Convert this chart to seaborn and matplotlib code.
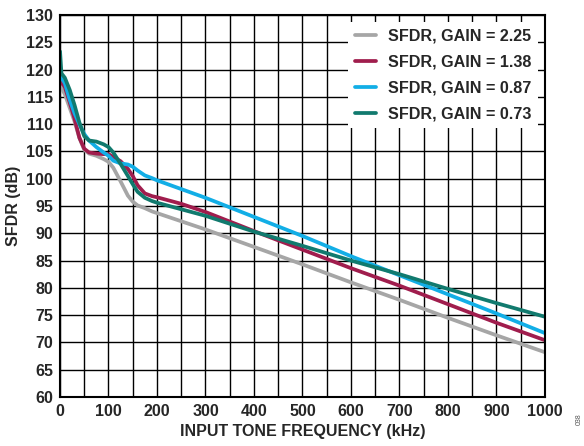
import pandas as pd
import seaborn as sns
import matplotlib.pyplot as plt

# input tone frequency (kHz)
freq = [0, 3, 10, 20, 30, 40, 50, 60, 75, 90, 100, 110, 125, 140, 150,
        160, 175, 190, 200, 250, 300, 400, 500, 600, 700, 800, 900, 1000]

# SFDR (dB) per gain setting
sfdr_225 = [117.0, 116.6, 115.5, 113.0, 110.5, 107.5, 105.3, 104.6, 104.2, 103.6,
            103.1, 102.0, 99.5, 96.9, 95.8, 95.1, 94.6, 94.0, 93.7, 92.2,
            90.7, 87.5, 84.3, 81.0, 77.8, 74.5, 71.3, 68.2]
sfdr_138 = [117.3, 117.7, 116.8, 114.0, 111.0, 107.5, 105.5, 104.8, 104.6, 104.5,
            104.5, 104.0, 103.2, 101.8, 100.5, 98.8, 97.3, 96.8, 96.6, 95.4,
            93.9, 90.4, 87.0, 83.6, 80.4, 77.0, 73.6, 70.4]
sfdr_087 = [119.5, 118.5, 117.5, 114.5, 112.0, 110.0, 108.2, 107.0, 105.8, 104.8,
            104.2, 103.3, 102.8, 102.6, 102.2, 101.5, 100.6, 100.1, 99.7, 98.1,
            96.5, 93.0, 89.5, 85.8, 82.3, 78.8, 75.3, 71.7]
sfdr_073 = [123.5, 119.3, 118.5, 116.3, 113.5, 110.3, 107.8, 107.0, 106.8, 106.3,
            105.8, 104.8, 102.7, 100.5, 99.0, 97.6, 96.5, 95.9, 95.6, 94.4,
            93.2, 90.3, 87.7, 85.0, 82.5, 79.8, 77.2, 74.7]

labels = ["SFDR, GAIN = 2.25", "SFDR, GAIN = 1.38",
          "SFDR, GAIN = 0.87", "SFDR, GAIN = 0.73"]
colors = ["#a6a6a6", "#a01d4d", "#12aee6", "#117a6e"]

frames = []
for lab, vals in zip(labels, [sfdr_225, sfdr_138, sfdr_087, sfdr_073]):
    frames.append(pd.DataFrame({"freq": freq, "sfdr": vals, "series": lab}))
df = pd.concat(frames, ignore_index=True)

sns.set_theme(style="white")
plt.rcParams["font.family"] = ["Liberation Sans", "DejaVu Sans"]
plt.rcParams["font.weight"] = "bold"

fig = plt.figure(figsize=(5.84, 4.46), dpi=100)
ax = fig.add_axes([0.1027, 0.1099, 0.8305, 0.8565])

sns.lineplot(data=df, x="freq", y="sfdr", hue="series", hue_order=labels,
             palette=colors, linewidth=2.7, ax=ax, legend=False, sort=False)
for ln in ax.lines:
    ln.set_solid_joinstyle("round")
    ln.set_solid_capstyle("butt")

ax.set_xlim(0, 1000)
ax.set_ylim(60, 130)
ax.set_xticks(range(0, 1001, 50), minor=True)
ax.set_xticks(range(0, 1001, 100))
ax.set_yticks(range(60, 131, 5))
ax.grid(True, which="both", color="black", linewidth=1.0)
ax.set_axisbelow(True)
for s in ax.spines.values():
    s.set_color("black")
    s.set_linewidth(1.5)

ax.tick_params(axis="both", which="both", length=0, labelsize=11.5, pad=5)
for t in ax.get_xticklabels() + ax.get_yticklabels():
    t.set_fontweight("bold")

ax.set_xlabel("INPUT TONE FREQUENCY (kHz)", fontsize=11.5, fontweight="bold", labelpad=4)
ax.set_ylabel("SFDR (dB)", fontsize=11.5, fontweight="bold", labelpad=4)

handles = [plt.Line2D([], [], color=c, linewidth=2.7) for c in colors]
leg = ax.legend(handles, labels, loc="upper right", frameon=True, fancybox=False,
                framealpha=1, edgecolor="white", handlelength=1.3,
                borderaxespad=0.45, labelspacing=0.68, handletextpad=0.75,
                prop={"weight": "bold", "size": 11.6})
leg.get_frame().set_linewidth(0)

fig.text(0.992, 0.06, "038", rotation=90, fontsize=5, color="#555555",
         ha="center", va="center", fontweight="normal")

fig.savefig("out.png", dpi=100)
